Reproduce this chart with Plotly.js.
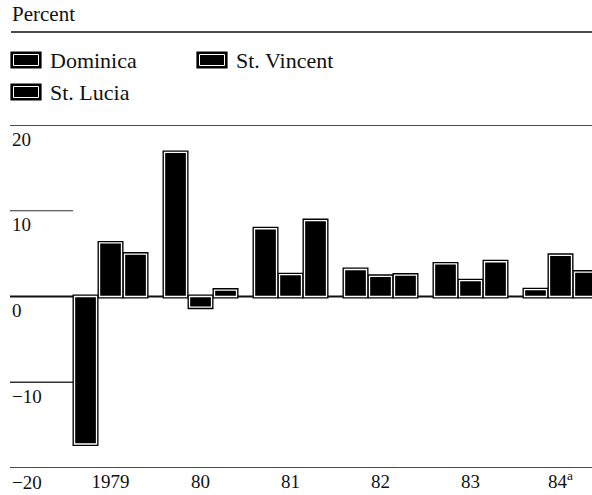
<!DOCTYPE html>
<html>
<head>
<meta charset="utf-8">
<script src="https://cdn.plot.ly/plotly-3.0.1.min.js"></script>
<style>html,body{margin:0;padding:0;background:#fff;}#chart{width:592px;height:495px;}</style>
</head>
<body>
<div id="chart"></div>
<script>
// ---- data ----
const categories = ["1979", "80", "81", "82", "83", "84<sup>a</sup>"];
const seriesNames = ["Dominica", "St. Lucia", "St. Vincent"];
const dominica  = [-17.2, 16.8, 7.9, 3.15, 3.8, 0.8];
const stLucia   = [6.25, -1.25, 2.55, 2.35, 1.85, 4.8];
const stVincent = [4.95, 0.75, 8.85, 2.5, 4.05, 2.85];
const yTickValues = [20, 10, 0, -10, -20];
const yTickLabels = ["20", "10", "0", "\u221210", "\u221220"];

// ---- layout geometry ----
const W = 592, H = 495;
const M = {l: 10, r: 0, t: 125, b: 27};
const PW = W - M.l - M.r, PH = H - M.t - M.b;
const px2x = p => (p - M.l) / PW;
const px2y = p => (M.t + PH - p) / PH;
const FONT = "Liberation Serif, Times New Roman, serif";

const allSeries = [dominica, stLucia, stVincent];
const slot = 25 / 90, barW = 22 / 90;
const traces = [];
// outer black borders (behind)
allSeries.forEach((vals, i) => {
  traces.push({
    type: "bar", x: categories, y: vals,
    offset: -1.5 * slot + i * slot + (slot - barW) / 2, width: barW,
    marker: {color: "#000", line: {color: "#000", width: 4}},
    showlegend: false, hoverinfo: "skip"
  });
});
// front bars with white inner rim
allSeries.forEach((vals, i) => {
  traces.push({
    type: "bar", x: categories, y: vals, name: seriesNames[i],
    offset: -1.5 * slot + i * slot + (slot - barW) / 2, width: barW,
    marker: {color: "#000", line: {color: "#fff", width: 1.3}},
    showlegend: false
  });
});

const shapes = [];
const line = (x0, x1, y, xref, yref, w, c) => shapes.push({
  type: "line", xref: xref, yref: yref, x0: x0, x1: x1, y0: y, y1: y,
  line: {color: c || "#111", width: w || 1.6}, layer: "below"
});
line(0, 1, 20, "paper", "y", 1.6);
line(0, px2x(73), 10, "paper", "y", 1.2, "#333");
line(0, 1, 0, "paper", "y", 1.8);
line(0, px2x(73), -10, "paper", "y", 1.4, "#333");
line(0, 1, -20, "paper", "y", 1.6);
line(px2x(11), 1, px2y(32), "paper", "paper", 1.6);

const annotations = [];
yTickValues.forEach((v, i) => annotations.push({
  xref: "paper", yref: "y", x: px2x(10), y: v, yshift: -14,
  xanchor: "left", yanchor: "middle", showarrow: false,
  text: yTickLabels[i], font: {family: FONT, size: 19, color: "#111"}
}));
annotations.push({
  xref: "paper", yref: "paper", x: px2x(10), y: px2y(14),
  xanchor: "left", yanchor: "middle", showarrow: false,
  text: "Percent", font: {family: FONT, size: 21, color: "#111"}
});

// legend (drawn manually to match the large boxed keys)
const legendItems = [
  {name: seriesNames[0], bx: 11, by: 52},
  {name: seriesNames[2], bx: 197, by: 52},
  {name: seriesNames[1], bx: 11, by: 84}
];
legendItems.forEach(it => {
  shapes.push({type: "rect", xref: "paper", yref: "paper",
    x0: px2x(it.bx), x1: px2x(it.bx + 30), y0: px2y(it.by + 16), y1: px2y(it.by),
    fillcolor: "#000", line: {color: "#000", width: 1.2}});
  shapes.push({type: "rect", xref: "paper", yref: "paper",
    x0: px2x(it.bx + 2.5), x1: px2x(it.bx + 27.5), y0: px2y(it.by + 13.5), y1: px2y(it.by + 2.5),
    fillcolor: "rgba(0,0,0,0)", line: {color: "#fff", width: 1}});
  annotations.push({xref: "paper", yref: "paper", x: px2x(it.bx + 37), y: px2y(it.by + 8),
    xanchor: "left", yanchor: "middle", showarrow: false,
    text: it.name, font: {family: FONT, size: 22, color: "#111"}});
});

const layout = {
  width: W, height: H,
  margin: {l: M.l, r: M.r, t: M.t, b: M.b, pad: 0},
  paper_bgcolor: "#fff", plot_bgcolor: "#fff",
  barmode: "overlay", showlegend: false,
  xaxis: {type: "category", range: [-1.117, 5.35], showgrid: false, zeroline: false,
    showline: false, ticks: "", fixedrange: true,
    tickfont: {family: FONT, size: 19, color: "#111"}},
  yaxis: {range: [-20, 20], showgrid: false, zeroline: false, showline: false,
    showticklabels: false, ticks: "", fixedrange: true},
  shapes: shapes, annotations: annotations
};
Plotly.newPlot("chart", traces, layout, {staticPlot: true, displayModeBar: false});
</script>
</body>
</html>
